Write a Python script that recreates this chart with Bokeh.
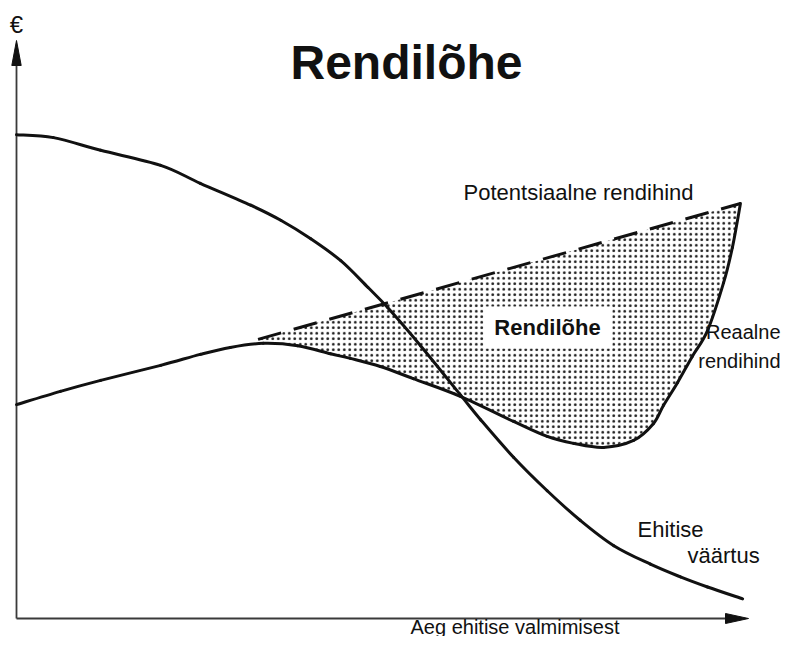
from bokeh.plotting import figure
from bokeh.models import Range1d
from bokeh.embed import file_html
from bokeh.resources import INLINE
from bokeh.core.properties import value

# ---- data (time since completion vs euro) ----
# Ehitise väärtus (building value)
t_value = [0, 5.05, 11.5, 19.7, 25.1, 32.0, 36.1, 40.2, 44.3, 48.0, 50.7, 55.2,
           60.7, 63.4, 67.9, 72.5, 77.0, 81.6, 86.6, 90.7, 94.4, 99.2]
building_value = [83.7, 83.2, 81.0, 78.4, 75.3, 71.5, 68.9, 65.7, 61.9, 57.3, 53.8, 47.2,
                  38.6, 34.4, 27.9, 22.1, 17.0, 12.6, 9.4, 7.2, 5.45, 3.4]

# Reaalne rendihind (actual rent)
t_rent = [0, 6.0, 11.5, 19.7, 25.1, 29.2, 33.7, 38.4, 42.9, 45.6, 49.7, 54.2, 60.7,
          67.9, 72.5, 76.1, 80.2, 84.3, 87.0, 88.4, 90.3, 92.3, 94.4, 96.6, 97.8, 98.9]
actual_rent = [37.0, 39.3, 41.2, 43.8, 45.7, 46.9, 47.6, 47.2, 45.8, 45.0, 43.6, 41.5, 38.4,
               34.1, 31.5, 30.3, 29.6, 30.8, 33.7, 36.9, 40.8, 45.3, 49.8, 58.1, 64.2, 71.8]

# Potentsiaalne rendihind (potential rent)
t_potential = [33.0, 98.9]
potential_rent = [48.3, 71.8]

# axis extents
x_max = 100.0
y_max = 100.0

title_text = "Rendilõhe"
gap_label = "Rendilõhe"
x_label = "Aeg ehitise valmimisest"
y_label = "€"

# ---- figure ----
PX_X = 7.32   # px per x unit
PX_Y = 5.78   # px per y unit
X0, Y0 = 16, 618   # pixel position of the origin
W, H = 782, 636
p = figure(width=W, height=H, output_backend="svg", toolbar_location=None,
           x_range=Range1d(-X0 / PX_X, (W - X0) / PX_X),
           y_range=Range1d((Y0 - H) / PX_Y, Y0 / PX_Y),
           x_axis_type=None, y_axis_type=None, min_border=0)
p.grid.visible = False
p.outline_line_color = None
p.background_fill_color = "white"
p.border_fill_color = "white"

FONT = value("Liberation Sans")
INK = "#111111"


def smooth(xs, ys):
    """Catmull-Rom control points for drawing a smooth curve through the points."""
    n = len(xs)
    x0, y0, x1, y1, cx0, cy0, cx1, cy1 = [], [], [], [], [], [], [], []
    for i in range(n - 1):
        ip = max(i - 1, 0)
        inn = min(i + 2, n - 1)
        x0.append(xs[i]); y0.append(ys[i])
        x1.append(xs[i + 1]); y1.append(ys[i + 1])
        cx0.append(xs[i] + (xs[i + 1] - xs[ip]) / 6)
        cy0.append(ys[i] + (ys[i + 1] - ys[ip]) / 6)
        cx1.append(xs[i + 1] - (xs[inn] - xs[i]) / 6)
        cy1.append(ys[i + 1] - (ys[inn] - ys[i]) / 6)
    return dict(x0=x0, y0=y0, x1=x1, y1=y1, cx0=cx0, cy0=cy0, cx1=cx1, cy1=cy1)


# ---- gap fill (between potential and actual rent) ----
fill_x = [t_potential[0], t_potential[1]]
fill_y = [potential_rent[0], potential_rent[1]]
for tx, ry in reversed(list(zip(t_rent, actual_rent))):
    if tx >= t_potential[0]:
        fill_x.append(tx)
        fill_y.append(ry)
p.patch(fill_x, fill_y, fill_color="white", line_color=None,
        hatch_pattern="dot", hatch_scale=5.5, hatch_weight=1.4,
        hatch_color="#000000", hatch_alpha=0.9)

# white label box
bx_l, bx_r = 63.8, 81.4
by_b, by_t = 46.7, 54.0
p.quad(left=[bx_l], right=[bx_r], bottom=[by_b], top=[by_t],
       fill_color="white", line_color=None)

# ---- axes ----
ax_col = "#3a3a3a"
p.line([0, 0], [0, y_max - 3], line_color=ax_col, line_width=1.8)
p.line([0, x_max - 3], [0, 0], line_color=ax_col, line_width=2)
hl_y = 25 / PX_Y
hw_y = 4.7 / PX_X
p.patch([0, -hw_y, hw_y], [y_max, y_max - hl_y, y_max - hl_y],
        fill_color=INK, line_color=INK, line_width=1)
hl_x = 23 / PX_X
hw_x = 5 / PX_Y
p.patch([x_max, x_max - hl_x, x_max - hl_x], [0, hw_x, -hw_x],
        fill_color=INK, line_color=INK, line_width=1)

# ---- curves ----
p.line(t_potential, potential_rent, line_color=INK, line_width=3,
       line_dash="24 13", line_cap="butt")
p.bezier(line_color=INK, line_width=3, line_cap="round", **smooth(t_rent, actual_rent))
p.bezier(line_color=INK, line_width=3, line_cap="round", **smooth(t_value, building_value))


# ---- texts (positioned by their visual middle) ----
def px_x(px):
    return (px - X0) / PX_X


def px_y(py):
    return (Y0 - py) / PX_Y


def label(xpx, ypx, txt, size, align="left", bold=False):
    p.text([px_x(xpx)], [px_y(ypx)], text=[txt], text_font=FONT,
           text_font_size=size, text_font_style="bold" if bold else "normal",
           text_align=align, text_baseline="middle", text_color=INK)


label(406, 62, title_text, "48px", "center", bold=True)
label(16, 24, y_label, "24px", "center")
label(547, 327, gap_label, "22px", "center", bold=True)
label(693, 192, "Potentsiaalne rendihind", "22px", "right")
label(780, 331, "Reaalne", "20px", "right")
label(780, 360, "rendihind", "20px", "right")
label(637, 529, "Ehitise", "22px", "left")
label(687, 555, "väärtus", "22px", "left")
label(410, 626, x_label, "20px", "left")

open("out.html", "w").write(file_html(p, INLINE))
